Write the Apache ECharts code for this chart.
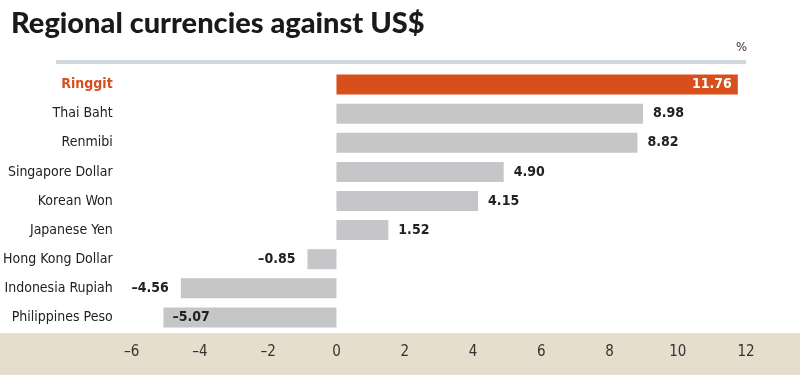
<!DOCTYPE html>
<html>
<head>
<meta charset="utf-8">
<script src="https://cdn.jsdelivr.net/npm/echarts@6/dist/echarts.min.js"></script>
<style>
  html, body { margin: 0; padding: 0; background: #fff; }
  #chart { width: 800px; height: 375px; }
</style>
</head>
<body>
<div id="chart"></div>
<script>
var currencies = ['Ringgit', 'Thai Baht', 'Renmibi', 'Singapore Dollar', 'Korean Won',
  'Japanese Yen', 'Hong Kong Dollar', 'Indonesia Rupiah', 'Philippines Peso'];
var changes = [11.76, 8.98, 8.82, 4.90, 4.15, 1.52, -0.85, -4.56, -5.07];
var ticks = { min: -6, max: 12, step: 2 };

var narrow = '"Liberation Sans Narrow", "DejaVu Sans Condensed", sans-serif';

function dash(s) { return String(s).replace('-', '\u2013'); }

var chart = echarts.init(document.getElementById('chart'));

var barData = changes.map(function (v, i) {
  var item = { value: v, itemStyle: { color: i === 0 ? '#d94f1c' : '#c6c6c8' } };
  if (i === 0) {
    item.label = { position: 'insideRight', color: '#fff', distance: 6 };
  } else if (i === changes.length - 1) {
    item.label = { position: 'insideLeft', distance: 9 };
  } else if (v < 0) {
    item.label = { position: 'left', distance: 12 };
  }
  return item;
});

var option = {
  animation: false,
  grid: { left: 131, right: 54, top: 70, bottom: 43 },
  graphic: [
    { type: 'rect', left: 0, top: 333, shape: { width: 800, height: 42 },
      style: { fill: '#e6ddcd' }, z: -10 },
    { type: 'rect', left: 56, top: 60, shape: { width: 690, height: 4 },
      style: { fill: '#d0d9de' } },
    { type: 'text', left: 736, top: 41,
      style: { text: '%', font: '13px ' + narrow, fill: '#333' } },
    { type: 'text', left: 11, top: 9,
      style: { text: 'Regional currencies against US$', font: '900 29px Lato, sans-serif', fill: '#1a1a1a' } }
  ],
  xAxis: {
    type: 'value',
    min: ticks.min,
    max: ticks.max,
    interval: ticks.step,
    axisLine: { show: false },
    axisTick: { show: false },
    splitLine: { show: false },
    axisLabel: {
      margin: 13,
      fontSize: 15,
      fontWeight: 500,
      fontFamily: narrow,
      color: '#333',
      formatter: function (v) { return dash(v); }
    }
  },
  yAxis: {
    type: 'category',
    data: currencies,
    inverse: true,
    axisLine: { show: false },
    axisTick: { show: false },
    axisLabel: {
      margin: 19,
      fontSize: 14,
      fontFamily: narrow,
      color: '#222',
      formatter: function (v, i) { return i === 0 ? '{hi|' + v + '}' : v; },
      rich: { hi: { color: '#d94f1c', fontSize: 14, fontWeight: 'bold', fontFamily: narrow } }
    }
  },
  series: [{
    type: 'bar',
    data: barData,
    barWidth: 20,
    label: {
      show: true,
      position: 'right',
      distance: 10,
      fontSize: 14,
      fontWeight: 'bold',
      fontFamily: narrow,
      color: '#222',
      formatter: function (p) { return dash(p.value.toFixed(2)); }
    }
  }]
};

chart.setOption(option);
</script>
</body>
</html>
